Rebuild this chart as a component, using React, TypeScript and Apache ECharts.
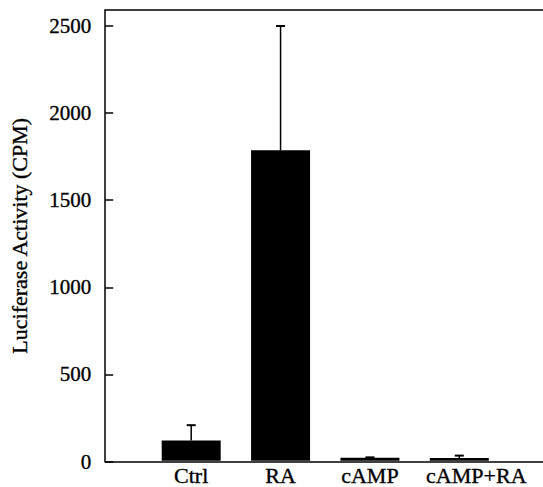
import React, { useEffect, useRef } from "react";
import * as echarts from "echarts";

const categories = ["Ctrl", "RA", "cAMP", "cAMP+RA"];
const meanValues = [117, 1785, 18, 16];
const upperValues = [205, 2500, 20, 30];
const yMin = 0;
const yMax = 2592;
const yInterval = 500;

const FONT = "'Liberation Serif', 'Times New Roman', serif";
const INK = { color: "#000", textBorderColor: "#000", textBorderWidth: 0.35 };

export default function App() {
  const ref = useRef<HTMLDivElement>(null);

  useEffect(() => {
    if (!ref.current) return;
    const chart = echarts.init(ref.current, undefined, { renderer: "svg" });

    const option: any = {
      animation: false,
      backgroundColor: "#ffffff",
      grid: [
        { left: 105, right: 0, top: 10, bottom: 25.5 },
        { left: 146.5, right: 39, top: 10, bottom: 25.5 },
      ],
      xAxis: [
        {
          type: "value",
          gridIndex: 0,
          position: "bottom",
          axisLine: { show: true, onZero: false, lineStyle: { color: "#000", width: 1.5 } },
          axisTick: { show: false },
          axisLabel: { show: false },
          splitLine: { show: false },
        },
        {
          type: "value",
          gridIndex: 0,
          position: "top",
          axisLine: { show: true, onZero: false, lineStyle: { color: "#000", width: 1.5 } },
          axisTick: { show: false },
          axisLabel: { show: false },
          splitLine: { show: false },
        },
        {
          type: "category",
          gridIndex: 1,
          data: categories.map((c) =>
            c === "cAMP+RA" ? { value: c, textStyle: { padding: [0, 0, 0, 34] } } : c
          ),
          boundaryGap: true,
          axisLine: { show: false },
          axisTick: { show: false },
          axisLabel: {
            margin: 4,
            ...INK,
            fontFamily: FONT,
            fontSize: 22,
            interval: 0,
          },
        },
      ],
      yAxis: [
        {
          type: "value",
          gridIndex: 0,
          min: yMin,
          max: yMax,
          interval: yInterval,
          name: "Luciferase Activity (CPM)",
          nameLocation: "middle",
          nameGap: 75,
          nameTextStyle: {
            ...INK,
            fontFamily: FONT,
            fontSize: 22,
          },
          axisLine: { show: true, lineStyle: { color: "#000", width: 1.5 } },
          axisTick: { show: true, inside: true, length: 8, lineStyle: { color: "#000", width: 1.5 } },
          axisLabel: {
            margin: 14,
            ...INK,
            fontFamily: FONT,
            fontSize: 21,
            showMaxLabel: false,
            formatter: (v: number) => (v % yInterval === 0 ? String(v) : ""),
          },
          splitLine: { show: false },
        },
        {
          type: "value",
          gridIndex: 1,
          min: yMin,
          max: yMax,
          interval: yInterval,
          show: false,
          splitLine: { show: false },
        },
      ],
      series: [
        {
          type: "bar",
          xAxisIndex: 2,
          yAxisIndex: 1,
          data: meanValues,
          barWidth: 59,
          itemStyle: { color: "#000" },
          z: 2,
        },
        {
          type: "custom",
          xAxisIndex: 2,
          yAxisIndex: 1,
          z: 3,
          data: categories.map((_, i) => [i, meanValues[i], upperValues[i]]),
          renderItem: (params: any, api: any) => {
            const x = api.value(0);
            const lo = api.coord([x, api.value(1)]);
            const hi = api.coord([x, api.value(2)]);
            const half = 4.5;
            return {
              type: "group",
              children: [
                {
                  type: "line",
                  shape: { x1: lo[0], y1: lo[1], x2: hi[0], y2: hi[1] },
                  style: { stroke: "#000", lineWidth: 1.5 },
                },
                {
                  type: "line",
                  shape: { x1: hi[0] - half, y1: hi[1], x2: hi[0] + half, y2: hi[1] },
                  style: { stroke: "#000", lineWidth: 2 },
                },
              ],
            };
          },
        },
      ],
    };

    chart.setOption(option);
    return () => chart.dispose();
  }, []);

  return (
    <div
      ref={ref}
      style={{ position: "fixed", left: 0, top: 0, width: 543, height: 487, background: "#fff" }}
    />
  );
}
